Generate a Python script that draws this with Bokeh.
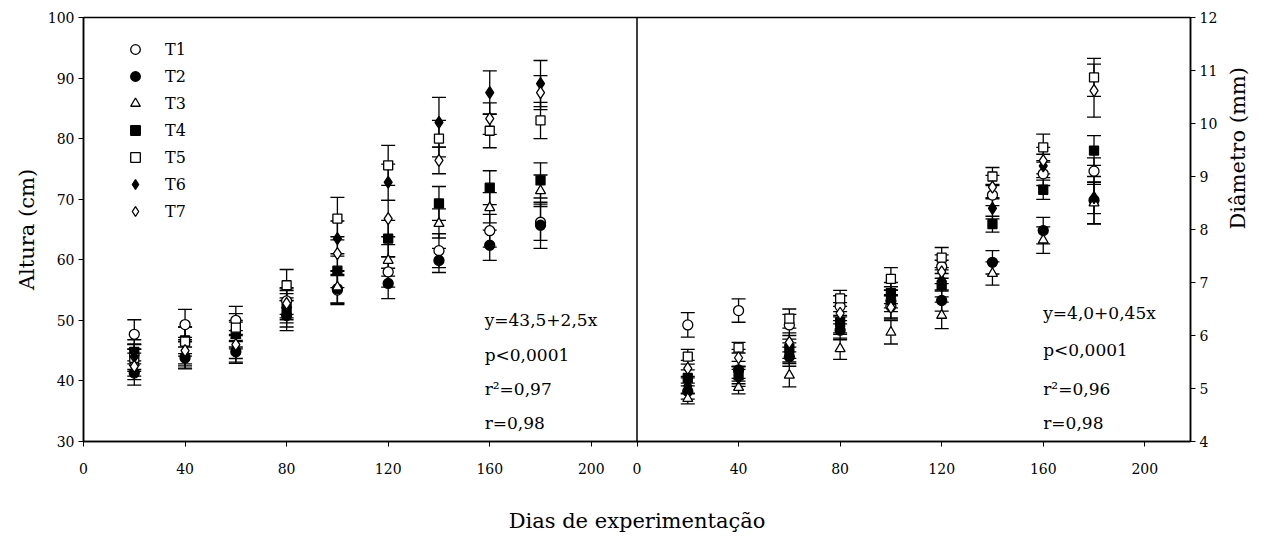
import math
from bokeh.plotting import figure
from bokeh.models import (Range1d, LinearAxis, Whisker, ColumnDataSource, Legend,
                          LegendItem, Label, Span, TeeHead, FixedTicker)
from bokeh.embed import file_html
from bokeh.resources import INLINE

# ---------------- data ----------------
dias = [20, 40, 60, 80, 100, 120, 140, 160, 180]
x_tick_vals = [0, 40, 80, 120, 160, 200]
alt_ticks = [30, 40, 50, 60, 70, 80, 90, 100]
diam_ticks = [4, 5, 6, 7, 8, 9, 10, 11, 12]
tratamentos = ["T1", "T2", "T3", "T4", "T5", "T6", "T7"]

# Altura (cm)
alt_T1 = [47.7, 49.3, 50.0, 53.2, 55.0, 58.0, 61.5, 64.8, 66.2]
alt_T2 = [41.3, 43.8, 44.8, 50.8, 55.2, 56.1, 59.9, 62.4, 65.7]
alt_T3 = [43.0, 44.5, 47.5, 52.5, 55.5, 59.9, 66.0, 68.6, 71.4]
alt_T4 = [44.8, 46.7, 47.8, 52.0, 58.2, 63.5, 69.3, 71.9, 73.1]
alt_T5 = [43.8, 46.5, 48.8, 55.8, 66.8, 75.6, 80.0, 81.3, 83.0]
alt_T6 = [44.0, 44.3, 45.3, 51.3, 63.5, 72.8, 82.7, 87.6, 89.1]
alt_T7 = [42.4, 45.0, 46.0, 52.8, 61.0, 66.8, 76.4, 83.3, 87.6]

alt_err_T1 = [2.4, 2.5, 2.3, 2.2, 2.4, 2.5, 2.8, 2.7, 3.0]
alt_err_T2 = [2.0, 1.8, 1.9, 2.5, 2.4, 2.5, 2.0, 2.5, 3.8]
alt_err_T3 = [2.2, 2.0, 2.2, 2.4, 2.6, 2.6, 2.4, 2.5, 2.6]
alt_err_T4 = [2.0, 2.2, 2.2, 2.4, 2.8, 3.0, 2.8, 2.8, 2.9]
alt_err_T5 = [2.2, 2.4, 2.3, 2.6, 3.5, 3.3, 3.0, 2.8, 3.0]
alt_err_T6 = [2.1, 2.2, 2.2, 2.4, 2.9, 3.0, 4.1, 3.6, 3.8]
alt_err_T7 = [2.2, 2.2, 2.3, 2.4, 2.8, 3.0, 2.2, 2.6, 2.8]

# Diâmetro (mm)
dia_T1 = [6.20, 6.47, 6.20, 6.55, 6.55, 7.30, 8.65, 9.05, 9.10]
dia_T2 = [4.95, 5.35, 5.60, 6.10, 6.65, 6.66, 7.38, 7.98, 8.55]
dia_T3 = [4.81, 5.02, 5.25, 5.75, 6.06, 6.38, 7.17, 7.80, 8.50]
dia_T4 = [5.20, 5.25, 5.75, 6.25, 6.80, 6.95, 8.10, 8.75, 9.49]
dia_T5 = [5.60, 5.77, 6.32, 6.70, 7.07, 7.47, 9.00, 9.55, 10.87]
dia_T6 = [5.05, 5.20, 5.68, 6.20, 6.72, 7.04, 8.40, 9.20, 8.60]
dia_T7 = [5.38, 5.58, 5.87, 6.42, 6.53, 7.20, 8.80, 9.30, 10.62]

dia_err_T1 = [0.23, 0.22, 0.20, 0.20, 0.22, 0.22, 0.20, 0.22, 0.25]
dia_err_T2 = [0.15, 0.16, 0.18, 0.18, 0.20, 0.20, 0.22, 0.25, 0.45]
dia_err_T3 = [0.10, 0.12, 0.22, 0.20, 0.22, 0.25, 0.22, 0.25, 0.39]
dia_err_T4 = [0.15, 0.16, 0.18, 0.20, 0.20, 0.22, 0.15, 0.18, 0.28]
dia_err_T5 = [0.14, 0.10, 0.18, 0.15, 0.21, 0.19, 0.17, 0.25, 0.36]
dia_err_T6 = [0.15, 0.16, 0.18, 0.18, 0.20, 0.20, 0.20, 0.22, 0.30]
dia_err_T7 = [0.15, 0.16, 0.18, 0.20, 0.22, 0.22, 0.22, 0.25, 0.50]

altura = [alt_T1, alt_T2, alt_T3, alt_T4, alt_T5, alt_T6, alt_T7]
altura_err = [alt_err_T1, alt_err_T2, alt_err_T3, alt_err_T4, alt_err_T5, alt_err_T6, alt_err_T7]
diametro = [dia_T1, dia_T2, dia_T3, dia_T4, dia_T5, dia_T6, dia_T7]
diametro_err = [dia_err_T1, dia_err_T2, dia_err_T3, dia_err_T4, dia_err_T5, dia_err_T6, dia_err_T7]

# ---------------- styles ----------------
FONT = "DejaVu Serif"
PANEL = 218  # width of one panel in x-units (second panel is drawn to the right)
markers = ["circle", "circle", "triangle", "square", "square", "diamond", "diamond"]
fills = ["white", "black", "white", "black", "white", "black", "white"]
sizes = [10, 10, 10, 9, 9, 12, 12]

p = figure(width=1267, height=545, output_backend="svg", toolbar_location=None,
           x_range=Range1d(0, 2 * PANEL), y_range=Range1d(30, 100),
           min_border_left=83, min_border_right=77, min_border_top=17, min_border_bottom=104)
p.extra_y_ranges = {"diam": Range1d(4, 12)}
p.grid.visible = False
p.outline_line_color = "black"
p.outline_line_width = 1.5
p.background_fill_color = "white"
p.border_fill_color = "white"


def style_axis(ax):
    ax.axis_label_text_font = FONT
    ax.axis_label_text_font_style = "normal"
    ax.axis_label_text_color = "black"
    ax.major_label_text_font = FONT
    ax.major_label_text_font_size = "14px"
    ax.major_label_text_color = "black"
    ax.minor_tick_line_color = None
    ax.major_tick_in = 0
    ax.major_tick_out = 5
    ax.major_tick_line_color = "black"
    ax.axis_line_color = "black"
    ax.axis_line_width = 1.5


# x axis: two panels
tick_pos = x_tick_vals + [t + PANEL for t in x_tick_vals]
overrides = {}
for t in x_tick_vals:
    overrides[t] = str(t)
    overrides[t + PANEL] = str(t)
xa = p.xaxis[0]
style_axis(xa)
xa.ticker = FixedTicker(ticks=tick_pos)
xa.major_label_overrides = overrides
xa.axis_label = "Dias de experimentação"
xa.axis_label_text_font_size = "21px"
xa.axis_label_standoff = 32
xa.major_label_standoff = 16

ya = p.yaxis[0]
style_axis(ya)
ya.ticker = FixedTicker(ticks=alt_ticks)
ya.axis_label = "Altura (cm)"
ya.axis_label_text_font_size = "21px"
ya.axis_label_standoff = 6
ya.major_label_standoff = 4

ra = LinearAxis(y_range_name="diam", ticker=FixedTicker(ticks=diam_ticks))
style_axis(ra)
ra.major_label_standoff = 4
ra.axis_label = "Diâmetro (mm)"
ra.axis_label_text_font_size = "21px"
ra.axis_label_standoff = 18
if "axis_label_orientation" in ra.properties():
    ra.axis_label_orientation = math.pi / 2
p.add_layout(ra, "right")

p.add_layout(Span(location=PANEL, dimension="height", line_color="black", line_width=1.5))

legend_items = []
for i, name in enumerate(tratamentos):
    # left panel: altura
    lo = [v - e for v, e in zip(altura[i], altura_err[i])]
    hi = [v + e for v, e in zip(altura[i], altura_err[i])]
    src = ColumnDataSource(dict(x=dias, y=altura[i], lower=lo, upper=hi))
    w = Whisker(base="x", lower="lower", upper="upper", source=src, level="underlay",
                line_color="black", line_width=1.3,
                upper_head=TeeHead(size=14, line_color="black", line_width=1.3),
                lower_head=TeeHead(size=14, line_color="black", line_width=1.3))
    p.add_layout(w)
    r = p.scatter("x", "y", source=src, marker=markers[i], size=sizes[i],
                  fill_color=fills[i], line_color="black", line_width=1.3)
    legend_items.append(LegendItem(label=name, renderers=[r]))

    # right panel: diametro
    lo2 = [v - e for v, e in zip(diametro[i], diametro_err[i])]
    hi2 = [v + e for v, e in zip(diametro[i], diametro_err[i])]
    src2 = ColumnDataSource(dict(x=[d + PANEL for d in dias], y=diametro[i], lower=lo2, upper=hi2))
    w2 = Whisker(base="x", lower="lower", upper="upper", source=src2, level="underlay",
                 y_range_name="diam", line_color="black", line_width=1.3,
                 upper_head=TeeHead(size=14, line_color="black", line_width=1.3),
                 lower_head=TeeHead(size=14, line_color="black", line_width=1.3))
    p.add_layout(w2)
    p.scatter("x", "y", source=src2, y_range_name="diam", marker=markers[i], size=sizes[i],
              fill_color=fills[i], line_color="black", line_width=1.3)

legend = Legend(items=legend_items, location=(40, 218), orientation="vertical",
                border_line_color=None, background_fill_alpha=0, padding=0, margin=0,
                glyph_width=24, glyph_height=24, label_height=24, spacing=3,
                label_standoff=18, label_text_font=FONT, label_text_font_size="16px",
                label_text_color="black")
p.add_layout(legend, "center")

# regression statistics
stat_left = ["y=43,5+2,5x", "p<0,0001", "r²=0,97", "r=0,98"]
stat_left_y = [50.0, 44.2, 38.7, 33.1]
stat_right = ["y=4,0+0,45x", "p<0,0001", "r²=0,96", "r=0,98"]
stat_right_y = [6.42, 5.72, 5.0, 4.34]
for t, yv in zip(stat_left, stat_left_y):
    p.add_layout(Label(x=158, y=yv, text=t, text_font=FONT, text_font_size="17px",
                       text_baseline="middle", text_color="black"))
for t, yv in zip(stat_right, stat_right_y):
    p.add_layout(Label(x=PANEL + 160, y=yv, y_range_name="diam", text=t, text_font=FONT,
                       text_font_size="17px", text_baseline="middle", text_color="black"))

open("out.html", "w").write(file_html(p, INLINE))
